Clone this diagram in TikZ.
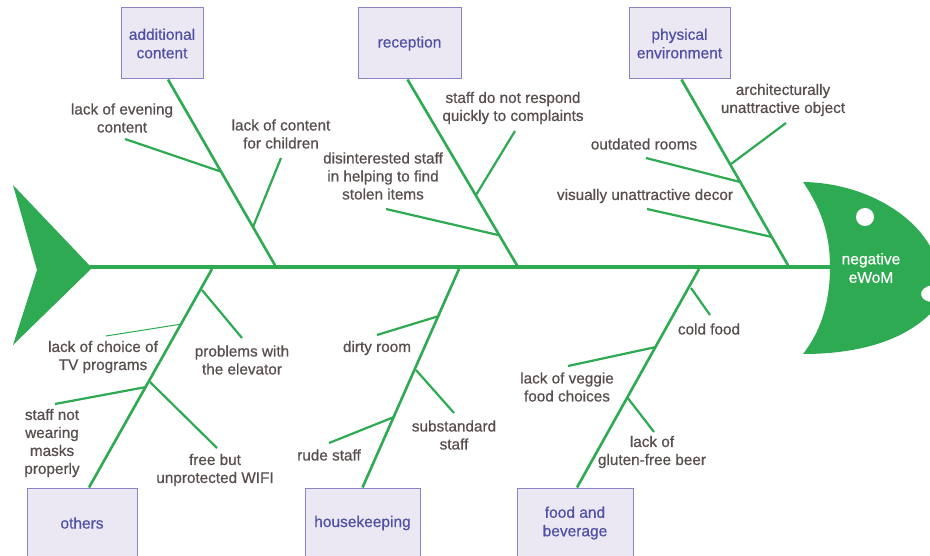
\documentclass[tikz,border=0pt]{standalone}
\usepackage{fontspec}
\setmainfont{Liberation Sans}[FakeBold=0.6]
\usetikzlibrary{calc}
\definecolor{fishgreen}{RGB}{46,170,82}
\definecolor{boxfill}{RGB}{235,232,244}
\definecolor{boxline}{RGB}{140,130,200}
\definecolor{boxtext}{RGB}{80,80,165}
\definecolor{lbltext}{RGB}{88,78,78}
\begin{document}
\begin{tikzpicture}[x=1pt,y=-1pt,
  font=\fontsize{15.3}{18}\selectfont,
  spine/.style={fishgreen,line width=4pt},
  bone/.style={fishgreen,line width=2.6pt},
  twig/.style={fishgreen,line width=2.2pt},
  thintwig/.style={fishgreen,line width=1pt},
  lbl/.style={text=lbltext,align=center,inner sep=0pt},
  cause/.style={draw=boxline,fill=boxfill,text=boxtext,align=center,line width=1pt,inner sep=0pt,
    font=\fontsize{15.5}{18.5}\selectfont}]
\clip (0,0) rectangle (930,556);
\fill[white] (0,0) rectangle (930,556);

% tail
\fill[fishgreen] (13,185) -- (92,268) -- (13,345) -- (37,270) -- cycle;
\coordinate (tail) at (90,267);
\coordinate (headjoin) at (830,267);
\draw[spine] (tail) -- (headjoin);

% head
\fill[fishgreen] (803,182) .. controls (865,183) and (915,215) .. (932,250)
  -- (932,285) .. controls (926,286) and (920,290) .. (921,295)
  .. controls (922,300) and (928,302) .. (932,302)
  -- (932,312) .. controls (905,340) and (860,354) .. (803,354)
  .. controls (822,330) and (830,300) .. (830,267)
  .. controls (830,235) and (822,210) .. (803,182) -- cycle;
\fill[white] (865,217) circle (9);
\node[text=white,align=center,inner sep=0pt,font=\fontsize{15.5}{18.5}\selectfont] (effect) at (871,268) {negative\\eWoM};

% top cause boxes
\node[cause,minimum width=82,minimum height=71] (add) at (162,43.5) {additional\\content};
\node[cause,minimum width=103,minimum height=71] (rec) at (409.5,43.5) {reception};
\node[cause,minimum width=101,minimum height=71] (phy) at (679.5,43.5) {physical\\environment};
% bottom cause boxes
\node[cause,minimum width=110,minimum height=70] (oth) at (82,523) {others};
\node[cause,minimum width=115,minimum height=70] (hk) at (362.5,523) {housekeeping};
\node[cause,minimum width=116,minimum height=70] (fb) at (575,523) {food and\\beverage};

% spine points
\coordinate (s1) at (276,267);
\coordinate (s2) at (518,267);
\coordinate (s3) at (789,267);
\coordinate (s4) at (212,269);
\coordinate (s5) at (459,269);
\coordinate (s6) at (699,269);

% main bones
\draw[bone] ([xshift=6pt]add.south) -- (s1);
\draw[bone] ([xshift=-2pt]rec.south) -- (s2);
\draw[bone] ([xshift=2pt]phy.south) -- (s3);
\draw[bone] (s4) -- ([xshift=7pt]oth.north);
\draw[bone] (s5) -- (hk.north);
\draw[bone] (s6) -- ([xshift=2pt]fb.north);

% labels
\node[lbl] (l1) at (122,118) {lack of evening\\content};
\node[lbl] (l2) at (281,134) {lack of content\\for children};
\node[lbl] (l3) at (513,108) {staff do not respond\\quickly to complaints};
\node[lbl] (l4) at (383,176) {disinterested staff\\in helping to find\\stolen items};
\node[lbl] (l5) at (783,100) {architecturally\\unattractive object};
\node[lbl] (l6) at (644,144) {outdated rooms};
\node[lbl] (l7) at (645,196) {visually unattractive decor};
\node[lbl] (l8) at (242,360) {problems with\\the elevator};
\node[lbl] (l9) at (103,357) {lack of choice of\\TV programs};
\node[lbl] (l10) at (215,470) {free but\\unprotected WIFI};
\node[lbl] (l11) at (52,443) {staff not\\wearing\\masks\\properly};
\node[lbl] (l12) at (377,348) {dirty room};
\node[lbl] (l13) at (454,435) {substandard\\staff};
\node[lbl] (l14) at (329,455) {rude staff};
\node[lbl] (l15) at (709,329) {cold food};
\node[lbl] (l16) at (567,387) {lack of veggie\\food choices};
\node[lbl] (l17) at (652,452) {lack of\\gluten-free beer};

% twig free ends and branch points
\coordinate (e1) at (125,139);   \coordinate (b1) at (222,172);
\coordinate (e2) at (281,158);   \coordinate (b2) at (253,227);
\coordinate (e3) at (515,131);   \coordinate (b3) at (476,195);
\coordinate (e4) at (386,209);   \coordinate (b4) at (498,235);
\coordinate (e5) at (786,123);   \coordinate (b5) at (731,164);
\coordinate (e6) at (646,158);   \coordinate (b6) at (740,182);
\coordinate (e7) at (647,209);   \coordinate (b7) at (772,237);
\coordinate (e8) at (242,338);   \coordinate (b8) at (202,290);
\coordinate (e9) at (106,336);   \coordinate (b9) at (182,324);
\coordinate (e10) at (217,448);  \coordinate (b10) at (150,382);
\coordinate (e11) at (55,404);   \coordinate (b11) at (146,387);
\coordinate (e12) at (377,335);  \coordinate (b12) at (439,316);
\coordinate (e13) at (454,413);  \coordinate (b13) at (416,370);
\coordinate (e14) at (329,443);  \coordinate (b14) at (394,417);
\coordinate (e15) at (710,315);  \coordinate (b15) at (691,288);
\coordinate (e16) at (568,366);  \coordinate (b16) at (656,347);
\coordinate (e17) at (654,432);  \coordinate (b17) at (627,397);

\foreach \i in {1,2,3,4,5,6,7,8,10,11,12,13,14,15,16,17}{\draw[twig] (e\i) -- (b\i);}
\draw[thintwig] (e9) -- (b9);
\end{tikzpicture}
\end{document}
